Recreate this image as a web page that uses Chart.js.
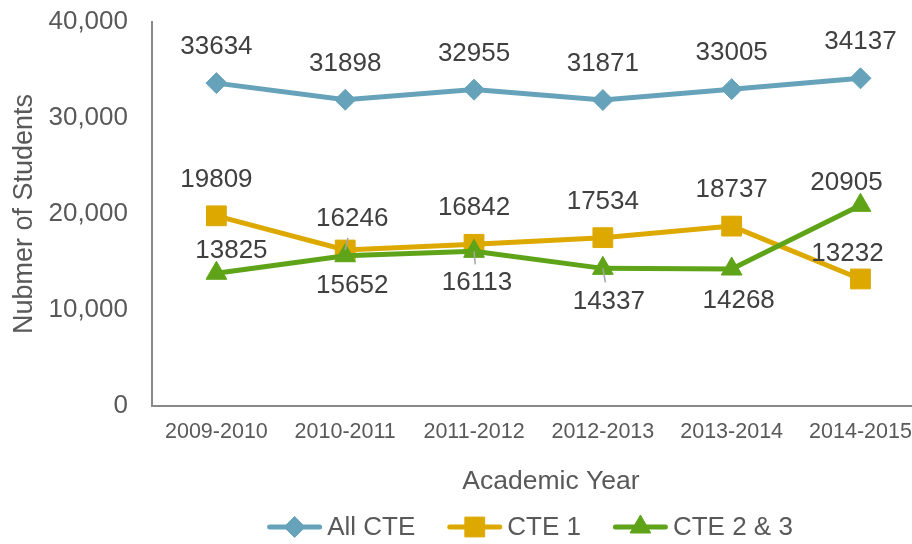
<!DOCTYPE html>
<html>
<head>
<meta charset="utf-8">
<script src="https://cdn.jsdelivr.net/npm/chart.js@4/dist/chart.umd.min.js"></script>
<style>
  html, body { margin: 0; padding: 0; background: #ffffff; overflow: hidden; }
  #wrap { width: 912px; height: 544px; }
</style>
</head>
<body>
<div id="wrap"><canvas id="c" width="912" height="544"></canvas></div>
<script>
// ---- data ----
const years = ['2009-2010', '2010-2011', '2011-2012', '2012-2013', '2013-2014', '2014-2015'];
const allCTE = [33634, 31898, 32955, 31871, 33005, 34137];
const cte1 = [19809, 16246, 16842, 17534, 18737, 13232];
const cte23 = [13825, 15652, 16113, 14337, 14268, 20905];
const yTicks = [0, 10000, 20000, 30000, 40000];
const seriesNames = ['All CTE', 'CTE 1', 'CTE 2 & 3'];

// ---- styling ----
const FONT = '"Liberation Sans", Arial, Helvetica, sans-serif';
const AXIS_TEXT = '#595959';
const LABEL_TEXT = '#404040';
const AXIS_LINE = '#898989';
const colors = ['#66A3BA', '#DDA900', '#5FA418'];
const pointStyles = ['rectRot', 'rect', 'triangle'];
const pointRadii = [10.5, 14, 12];
// data-label placement (pixel offsets from each point)
const labelDx = [[0, 0, 0, 0, 0, 0], [0, 7, 0, 0, 0, -13], [15, 7, 3, 6, 7, -14]];
const labelDy = [[-36, -36, -36, -36, -36, -36], [-36, -31, -36, -36, -36, -25], [-22, 30, 32, 33, 32, -22]];
const leaders = [[], [1], [2, 3]];

const seriesValues = [allCTE, cte1, cte23];

const datasets = seriesValues.map((vals, d) => ({
  label: seriesNames[d],
  data: vals.map((v, i) => ({ x: i, y: v })),
  borderColor: colors[d],
  backgroundColor: colors[d],
  borderWidth: 5,
  tension: 0,
  pointStyle: pointStyles[d],
  pointRadius: pointRadii[d],
  pointHoverRadius: pointRadii[d],
  pointBackgroundColor: colors[d],
  pointBorderColor: colors[d],
  pointBorderWidth: 1,
  order: 2 - d
}));

function drawMarker(ctx, style, r, x, y) {
  if (Chart.helpers && Chart.helpers.drawPoint) {
    Chart.helpers.drawPoint(ctx, { pointStyle: style, radius: r, borderWidth: 1, rotation: 0 }, x, y);
    return;
  }
  ctx.beginPath();
  if (style === 'rectRot') {
    ctx.moveTo(x - r, y); ctx.lineTo(x, y - r); ctx.lineTo(x + r, y); ctx.lineTo(x, y + r);
  } else if (style === 'rect') {
    const s = r * Math.SQRT1_2; ctx.rect(x - s, y - s, 2 * s, 2 * s);
  } else {
    ctx.moveTo(x, y - r);
    ctx.lineTo(x + r * Math.cos(Math.PI / 6), y + r / 2);
    ctx.lineTo(x - r * Math.cos(Math.PI / 6), y + r / 2);
  }
  ctx.closePath(); ctx.fill(); ctx.stroke();
}

const dataLabelPlugin = {
  id: 'dataLabelPlugin',
  afterDatasetsDraw(chart) {
    const ctx = chart.ctx;
    ctx.save();
    ctx.font = '26px ' + FONT;
    ctx.textAlign = 'center';
    ctx.textBaseline = 'middle';
    chart.data.datasets.forEach((ds, d) => {
      const meta = chart.getDatasetMeta(d);
      meta.data.forEach((pt, i) => {
        const lx = pt.x + labelDx[d][i];
        const ly = pt.y + labelDy[d][i];
        if (leaders[d].includes(i)) {
          const s = 19 / Math.abs(ly - pt.y);
          ctx.strokeStyle = '#A6A6A6';
          ctx.lineWidth = 1.5;
          ctx.beginPath();
          ctx.moveTo(pt.x, pt.y);
          ctx.lineTo(lx + (pt.x - lx) * s, ly + (pt.y - ly) * s);
          ctx.stroke();
        }
        ctx.fillStyle = LABEL_TEXT;
        ctx.fillText(String(seriesValues[d][i]), lx, ly);
      });
    });
    ctx.restore();
  }
};

const bottomPlugin = {
  id: 'bottomPlugin',
  afterDraw(chart) {
    const ctx = chart.ctx;
    const ca = chart.chartArea;
    const cx = (ca.left + ca.right) / 2;
    ctx.save();
    // x-axis title
    ctx.font = '26.5px ' + FONT;
    ctx.fillStyle = AXIS_TEXT;
    ctx.textAlign = 'center';
    ctx.textBaseline = 'middle';
    ctx.fillText('Academic Year', cx + 19, 482);
    // legend
    ctx.font = '26px ' + FONT;
    const lineLen = 55, gapText = 5, gapItem = 32, y = 527;
    const widths = chart.data.datasets.map(ds => ctx.measureText(ds.label).width);
    let total = gapItem * (widths.length - 1);
    widths.forEach(w => { total += lineLen + gapText + w; });
    let x = cx - 2 - total / 2;
    chart.data.datasets.forEach((ds, d) => {
      ctx.strokeStyle = ds.borderColor;
      ctx.lineWidth = 5;
      ctx.lineCap = 'round';
      ctx.beginPath();
      ctx.moveTo(x + 2.5, y);
      ctx.lineTo(x + lineLen - 2.5, y);
      ctx.stroke();
      ctx.lineCap = 'butt';
      ctx.lineWidth = 1;
      ctx.fillStyle = ds.backgroundColor;
      ctx.strokeStyle = ds.borderColor;
      drawMarker(ctx, ds.pointStyle, ds.pointRadius, x + lineLen / 2, y);
      ctx.fillStyle = AXIS_TEXT;
      ctx.textAlign = 'left';
      ctx.fillText(ds.label, x + lineLen + gapText, y + 1);
      x += lineLen + gapText + widths[d] + gapItem;
    });
    ctx.restore();
  }
};

new Chart(document.getElementById('c'), {
  type: 'line',
  data: { datasets },
  options: {
    responsive: false,
    animation: false,
    events: [],
    layout: { autoPadding: false, padding: { top: 22, right: 0, bottom: 100, left: 0 } },
    plugins: { legend: { display: false }, tooltip: { enabled: false } },
    scales: {
      x: {
        type: 'linear',
        min: -0.5,
        max: 5.4,
        afterBuildTicks: s => { s.ticks = years.map((_, i) => ({ value: i })); },
        afterFit: s => { s.paddingLeft = 0; s.paddingRight = 0; s.height = 38; },
        ticks: {
          autoSkip: false, maxRotation: 0, padding: 13,
          font: { size: 21.5, family: FONT }, color: AXIS_TEXT,
          callback: v => (years[v] !== undefined ? years[v] : '')
        },
        grid: { display: false, drawTicks: false },
        border: { display: true, color: AXIS_LINE, width: 2 }
      },
      y: {
        min: 0,
        max: 40000,
        afterBuildTicks: s => { s.ticks = yTicks.map(v => ({ value: v })); },
        afterFit: s => { s.paddingTop = 0; s.paddingBottom = 0; s.width = 152; },
        ticks: {
          padding: 24,
          font: { size: 26, family: FONT }, color: AXIS_TEXT,
          callback: v => Number(v).toLocaleString('en-US')
        },
        grid: { display: false, drawTicks: false },
        border: { display: true, color: AXIS_LINE, width: 2 },
        title: {
          display: true, text: 'Nubmer of Students',
          font: { size: 27, family: FONT }, color: AXIS_TEXT,
          padding: { top: 8, bottom: 8 }
        }
      }
    }
  },
  plugins: [dataLabelPlugin, bottomPlugin]
});
</script>
</body>
</html>
